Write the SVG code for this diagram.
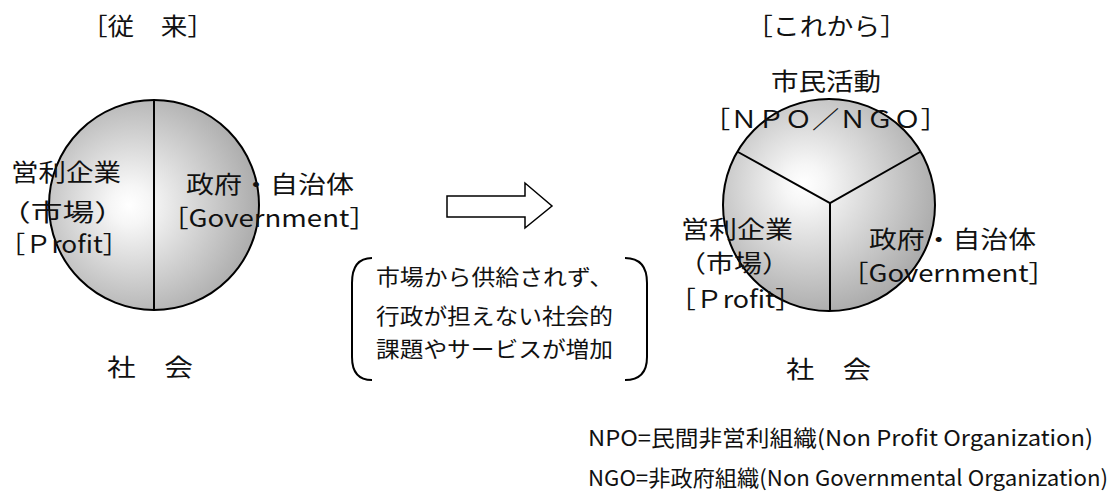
<svg xmlns="http://www.w3.org/2000/svg" width="1117" height="497" viewBox="0 0 1117 497">
<style>
text{font-family:"Noto Sans CJK JP","Noto Sans",sans-serif;fill:#111;}
.t{font-size:24px;}
.b{font-size:22px;}
.f{font-size:22px;}
.ln{stroke:#000;stroke-width:2;fill:none;}
</style>
<defs>
<radialGradient id="gL" cx="0.42" cy="0.5" r="0.62" fx="0.38" fy="0.5">
<stop offset="0" stop-color="#ffffff"/>
<stop offset="0.15" stop-color="#f6f6f6"/>
<stop offset="1" stop-color="#a6a6a6"/>
</radialGradient>
<radialGradient id="gR" cx="0.42" cy="0.42" r="0.64" fx="0.38" fy="0.4">
<stop offset="0" stop-color="#ffffff"/>
<stop offset="0.15" stop-color="#f6f6f6"/>
<stop offset="1" stop-color="#a6a6a6"/>
</radialGradient>
</defs>
<rect width="1117" height="497" fill="#fff"/>

<g id="title-left"><text class="t" x="81" y="35" textLength="133" lengthAdjust="spacingAndGlyphs">［従　来］</text></g>
<g id="title-right"><text class="t" x="746" y="35" textLength="161" lengthAdjust="spacingAndGlyphs">［これから］</text></g>

<g id="node-before">
<circle cx="154" cy="205" r="105" fill="url(#gL)" stroke="#000" stroke-width="2"/>
<line class="ln" x1="154" y1="100" x2="154" y2="310"/>
<text class="t" x="11" y="181" textLength="110" lengthAdjust="spacingAndGlyphs">営利企業</text>
<text class="t" x="-1" y="221" textLength="127" lengthAdjust="spacingAndGlyphs">（市場）</text>
<text class="t" x="-1" y="253" textLength="130" lengthAdjust="spacingAndGlyphs">［Ｐrofit］</text>
<text class="t" x="186" y="193" textLength="168" lengthAdjust="spacingAndGlyphs">政府・自治体</text>
<text class="t" x="161" y="227" textLength="216" lengthAdjust="spacingAndGlyphs">［Government］</text>
<text class="t" x="107" y="376" textLength="86" lengthAdjust="spacingAndGlyphs">社　会</text>
</g>

<g id="node-after">
<circle cx="829" cy="205" r="106" fill="url(#gR)" stroke="#000" stroke-width="2"/>
<polyline class="ln" points="738,152 830,203 920,152"/>
<line class="ln" x1="830" y1="203" x2="830" y2="311"/>
<text class="t" x="771" y="90" textLength="110" lengthAdjust="spacingAndGlyphs">市民活動</text>
<text class="t" x="703" y="128" textLength="245" lengthAdjust="spacingAndGlyphs">［ＮＰＯ／ＮＧＯ］</text>
<text class="t" x="681" y="238" textLength="112" lengthAdjust="spacingAndGlyphs">営利企業</text>
<text class="t" x="678" y="272" textLength="112" lengthAdjust="spacingAndGlyphs">（市場）</text>
<text class="t" x="669" y="308" textLength="133" lengthAdjust="spacingAndGlyphs">［Ｐrofit］</text>
<text class="t" x="869" y="248" textLength="167" lengthAdjust="spacingAndGlyphs">政府・自治体</text>
<text class="t" x="841" y="282" textLength="215" lengthAdjust="spacingAndGlyphs">［Government］</text>
<text class="t" x="786" y="378" textLength="85" lengthAdjust="spacingAndGlyphs">社　会</text>
</g>

<g id="note-box">
<path class="ln" d="M372,258 Q352,258 352,283 L352,357 Q352,380 372,380"/>
<path class="ln" d="M625,258 Q647,258 647,283 L647,357 Q647,380 625,380"/>
<text class="b" x="376" y="285" textLength="237" lengthAdjust="spacingAndGlyphs">市場から供給されず、</text>
<text class="b" x="376" y="324" textLength="237" lengthAdjust="spacingAndGlyphs">行政が担えない社会的</text>
<text class="b" x="376" y="357" textLength="237" lengthAdjust="spacingAndGlyphs">課題やサービスが増加</text>
</g>

<g id="connectors">
<polygon points="447,196 525,196 525,183 552,206 525,228 525,217 447,217" fill="#fff" stroke="#000" stroke-width="1.5" stroke-linejoin="miter"/>
</g>

<g id="footnotes">
<text class="f" x="588" y="446" textLength="505" lengthAdjust="spacingAndGlyphs">NPO=民間非営利組織(Non Profit Organization)</text>
<text class="f" x="588" y="486" textLength="520" lengthAdjust="spacingAndGlyphs">NGO=非政府組織(Non Governmental Organization)</text>
</g>
</svg>
